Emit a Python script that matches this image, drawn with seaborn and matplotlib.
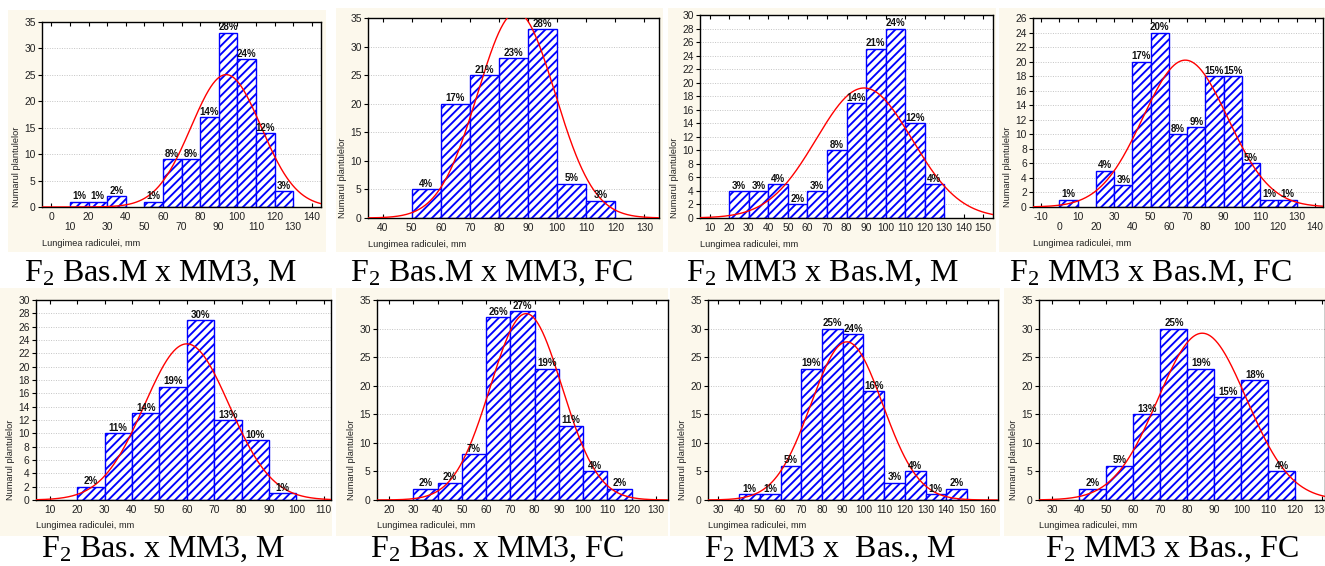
import numpy as np
import pandas as pd
import matplotlib
matplotlib.use("Agg")
import matplotlib.pyplot as plt
import seaborn as sns
from matplotlib.patches import Rectangle

# ---------------- data ----------------
BIN_WIDTH = 10

p1_bins = [10, 20, 30, 40, 50, 60, 70, 80, 90, 100, 110, 120]
p1_counts = [1, 1, 2, 0, 1, 9, 9, 17, 33, 28, 14, 3]
p1_pct = ["1%", "1%", "2%", "", "1%", "8%", "8%", "14%", "28%", "24%", "12%", "3%"]
p1_fit = (94.0, 18.8)

p2_bins = [50, 60, 70, 80, 90, 100, 110]
p2_counts = [5, 20, 25, 28, 33, 6, 3]
p2_pct = ["4%", "17%", "21%", "23%", "28%", "5%", "3%"]
p2_fit = (86.0, 13.3)

p3_bins = [20, 30, 40, 50, 60, 70, 80, 90, 100, 110, 120]
p3_counts = [4, 4, 5, 2, 4, 10, 17, 25, 28, 14, 5]
p3_pct = ["3%", "3%", "4%", "2%", "3%", "8%", "14%", "21%", "24%", "12%", "4%"]
p3_fit = (89.0, 24.5)

p4_bins = [0, 10, 20, 30, 40, 50, 60, 70, 80, 90, 100, 110, 120]
p4_counts = [1, 0, 5, 3, 20, 24, 10, 11, 18, 18, 6, 1, 1]
p4_pct = ["1%", "", "4%", "3%", "17%", "20%", "8%", "9%", "15%", "15%", "5%", "1%", "1%"]
p4_fit = (69.0, 23.3)

p5_bins = [20, 30, 40, 50, 60, 70, 80, 90]
p5_counts = [2, 10, 13, 17, 27, 12, 9, 1]
p5_pct = ["2%", "11%", "14%", "19%", "30%", "13%", "10%", "1%"]
p5_fit = (60.0, 15.5)

p6_bins = [30, 40, 50, 60, 70, 80, 90, 100, 110]
p6_counts = [2, 3, 8, 32, 33, 23, 13, 5, 2]
p6_pct = ["2%", "2%", "7%", "26%", "27%", "19%", "11%", "4%", "2%"]
p6_fit = (76.5, 14.8)

p7_bins = [40, 50, 60, 70, 80, 90, 100, 110, 120, 130, 140]
p7_counts = [1, 1, 6, 23, 30, 29, 19, 3, 5, 1, 2]
p7_pct = ["1%", "1%", "5%", "19%", "25%", "24%", "16%", "3%", "4%", "1%", "2%"]
p7_fit = (92.0, 17.3)

p8_bins = [40, 50, 60, 70, 80, 90, 100, 110]
p8_counts = [2, 6, 15, 30, 23, 18, 21, 5]
p8_pct = ["2%", "5%", "13%", "25%", "19%", "15%", "18%", "4%"]
p8_fit = (85.5, 16.4)

captions = [
    r"F$_\mathrm{2}$ Bas.M x MM3, M",
    r"F$_\mathrm{2}$ Bas.M x MM3, FC",
    r"F$_\mathrm{2}$ MM3 x Bas.M, M",
    r"F$_\mathrm{2}$ MM3 x Bas.M, FC",
    r"F$_\mathrm{2}$ Bas. x MM3, M",
    r"F$_\mathrm{2}$ Bas. x MM3, FC",
    r"F$_\mathrm{2}$ MM3 x  Bas., M",
    r"F$_\mathrm{2}$ MM3 x Bas., FC",
]

x_label = "Lungimea radiculei, mm"
y_label = "Numarul plantulelor"

# ---------------- style / layout ----------------
sns.set_theme(style="white")
plt.rcParams["font.family"] = ["Liberation Sans", "DejaVu Sans"]
plt.rcParams["mathtext.fontset"] = "custom"
plt.rcParams["mathtext.rm"] = "Liberation Serif"
plt.rcParams["mathtext.it"] = "Liberation Serif:italic"
plt.rcParams["mathtext.bf"] = "Liberation Serif:bold"
plt.rcParams["hatch.linewidth"] = 1.35

W, H = 1325, 566
CREAM = "#fcf8ec"
BLUE = "#0000ff"

fig = plt.figure(figsize=(W / 100, H / 100), dpi=100)
fig.patch.set_facecolor("white")

cream_boxes = [
    (8, 10, 326, 252), (336, 8, 663, 252), (668, 8, 996, 252), (999, 8, 1325, 252),
    (0, 288, 332, 536), (336, 288, 668, 536), (670, 288, 1000, 536), (1004, 288, 1325, 536),
]
for (l, t, r, b) in cream_boxes:
    fig.add_artist(Rectangle((l / W, 1 - b / H), (r - l) / W, (b - t) / H,
                             transform=fig.transFigure, facecolor=CREAM,
                             edgecolor="none", zorder=0))

panels = [
    dict(bins=p1_bins, counts=p1_counts, pct=p1_pct, fit=p1_fit,
         box=(42, 22, 321, 207), xlim=(-5, 145), ylim=(0, 35), ystep=5,
         xt=(0, 140), alt=True, xlab_dy=37, cap=(160, 281)),
    dict(bins=p2_bins, counts=p2_counts, pct=p2_pct, fit=p2_fit,
         box=(368, 18, 659, 218), xlim=(35, 135), ylim=(0, 35), ystep=5,
         xt=(40, 130), alt=False, xlab_dy=26, cap=(491, 281)),
    dict(bins=p3_bins, counts=p3_counts, pct=p3_pct, fit=p3_fit,
         box=(700, 15, 993, 218), xlim=(5, 155), ylim=(0, 30), ystep=2,
         xt=(10, 150), alt=False, xlab_dy=26, cap=(822, 281)),
    dict(bins=p4_bins, counts=p4_counts, pct=p4_pct, fit=p4_fit,
         box=(1033, 18, 1323, 207), xlim=(-14.5, 144.5), ylim=(0, 26), ystep=2,
         xt=(-10, 140), alt=True, xlab_dy=37, cap=(1150, 281)),
    dict(bins=p5_bins, counts=p5_counts, pct=p5_pct, fit=p5_fit,
         box=(36, 300, 331, 500), xlim=(5, 112.6), ylim=(0, 30), ystep=2,
         xt=(10, 110), alt=False, xlab_dy=25, cap=(163, 557)),
    dict(bins=p6_bins, counts=p6_counts, pct=p6_pct, fit=p6_fit,
         box=(377, 300, 668, 500), xlim=(15, 135), ylim=(0, 35), ystep=5,
         xt=(20, 130), alt=False, xlab_dy=25, cap=(497, 557)),
    dict(bins=p7_bins, counts=p7_counts, pct=p7_pct, fit=p7_fit,
         box=(708, 300, 998, 500), xlim=(25, 165), ylim=(0, 35), ystep=5,
         xt=(30, 160), alt=False, xlab_dy=25, cap=(830, 557)),
    dict(bins=p8_bins, counts=p8_counts, pct=p8_pct, fit=p8_fit,
         box=(1039, 300, 1325, 500), xlim=(25, 131), ylim=(0, 35), ystep=5,
         xt=(30, 130), alt=False, xlab_dy=25, cap=(1172, 557)),
]


def draw_panel(p, caption):
    l, t, r, b = p["box"]
    axw, axh = r - l, b - t
    ax = fig.add_axes([l / W, 1 - b / H, axw / W, axh / H])
    ax.set_facecolor("white")
    ax.set_axisbelow(True)

    bins = [float(v) for v in p["bins"]]
    counts = [float(v) for v in p["counts"]]
    edges = bins + [bins[-1] + BIN_WIDTH]
    df = pd.DataFrame({"length": [v + BIN_WIDTH / 2 for v in bins], "n": counts})

    sns.histplot(data=df, x="length", weights="n", bins=edges, ax=ax, stat="count",
                 fill=True, facecolor="white", edgecolor=BLUE, linewidth=1.0,
                 hatch="////", alpha=1.0, zorder=2)
    for patch in list(ax.patches):
        if patch.get_height() == 0:
            patch.remove()

    # fitted normal curve (expected counts)
    mu, sd = p["fit"]
    n = sum(counts)
    xs = np.linspace(p["xlim"][0], p["xlim"][1], 500)
    ys = n * BIN_WIDTH * np.exp(-0.5 * ((xs - mu) / sd) ** 2) / (sd * np.sqrt(2 * np.pi))
    sns.lineplot(x=xs, y=ys, ax=ax, color="red", linewidth=1.0, zorder=3)

    for left, c, lab in zip(bins, counts, p["pct"]):
        if c > 0 and lab:
            ax.annotate(lab, (left + BIN_WIDTH / 2, c), xytext=(0, 0.3),
                        textcoords="offset points", ha="center", va="bottom",
                        fontsize=7.0, fontweight="bold", color="#111111",
                        zorder=4, annotation_clip=False)

    ax.set_xlim(*p["xlim"])
    ax.set_ylim(*p["ylim"])
    yt = np.arange(p["ylim"][0], p["ylim"][1] + 0.01, p["ystep"])
    ax.set_yticks(yt)
    ax.set_yticklabels([f"{v:g}" for v in yt])
    xt = np.arange(p["xt"][0], p["xt"][1] + 0.01, 10)
    ax.set_xticks(xt)
    if p["alt"]:
        labs = [f"{v:g}" if i % 2 == 0 else "\n" + f"{v:g}" for i, v in enumerate(xt)]
    else:
        labs = [f"{v:g}" for v in xt]
    ax.set_xticklabels(labs, linespacing=1.05)

    ax.yaxis.grid(True, color="#c4c4c4", linestyle=(0, (1, 1.5)), linewidth=0.7)
    ax.xaxis.grid(False)
    for s in ax.spines.values():
        s.set_visible(True)
        s.set_color("black")
        s.set_linewidth(1.0)

    ax.tick_params(axis="x", which="both", bottom=True, top=True, direction="in",
                   length=3, width=0.8, labelsize=7.4, pad=3.5, colors="black",
                   labelcolor="#222222")
    ax.tick_params(axis="y", which="both", left=True, right=False, direction="out",
                   length=3, width=0.8, labelsize=7.4, pad=1.5, colors="black",
                   labelcolor="#222222")

    ax.set_xlabel(x_label, loc="left", fontsize=6.7, color="#222222")
    ax.xaxis.set_label_coords(0, -p["xlab_dy"] / axh)
    ax.xaxis.label.set_va("center")
    ax.set_ylabel(y_label, loc="bottom", fontsize=6.7, color="#222222")
    ax.yaxis.set_label_coords(-21 / axw, 0)

    cx, cy = p["cap"]
    fig.text(cx / W, 1 - cy / H, caption, ha="center", va="baseline",
             fontsize=23, family="Liberation Serif", color="black")


for p, cap in zip(panels, captions):
    draw_panel(p, cap)

fig.savefig("out.png", dpi=100, facecolor="white")
